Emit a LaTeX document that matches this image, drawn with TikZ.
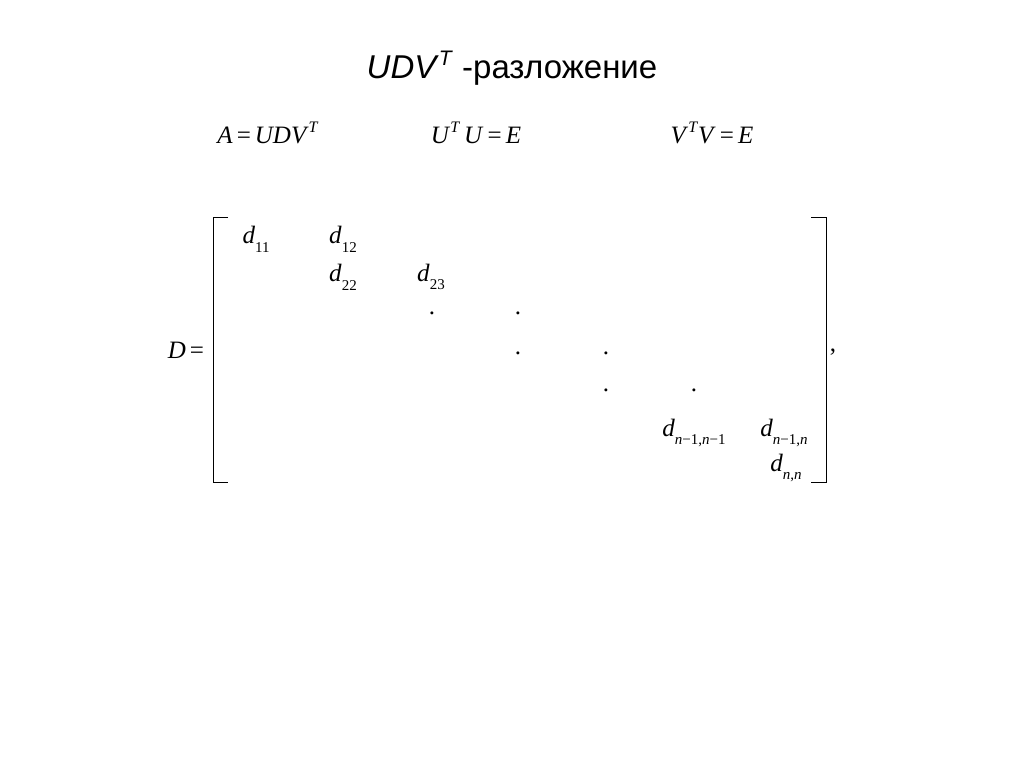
\documentclass[tikz,border=0pt]{standalone}
\usepackage{fontspec}
\setmainfont{Liberation Serif}
\newfontfamily\arialf{Liberation Sans}
\newcommand\myd[1]{\textit{d}\raisebox{-0.35em}{\fontsize{15}{15}\selectfont #1}}
\newcommand\mysup[1]{\raisebox{0.45em}{\fontsize{16}{16}\selectfont\textit{#1}}}
\begin{document}
\begin{tikzpicture}[x=1pt,y=-1pt,
  eq/.style={font=\fontsize{25}{27}\selectfont, inner sep=0pt},
  ent/.style={font=\fontsize{25}{27}\selectfont, inner sep=0pt},
  br/.style={line width=1pt}]
\useasboundingbox (0,0) rectangle (1024,767);
\fill[white] (0,0) rectangle (1024,767);
\node[inner sep=0pt,font=\arialf\fontsize{33}{35}\selectfont] (title) at (512,68) {\textit{UDV}\raisebox{0.4em}{\fontsize{21}{21}\selectfont\textit{T}} -разложение};
\node[eq] (e1) at (268,133) {\textit{A}\hspace{4pt}=\hspace{4pt}\textit{UDV}\mysup{T}};
\node[eq] (e2) at (476,133) {\textit{U}\mysup{T}\hspace{4pt}\textit{U}\hspace{4pt}=\hspace{4pt}\textit{E}};
\node[eq] (e3) at (712,133) {\textit{V}\mysup{T}\textit{V}\hspace{4pt}=\hspace{4pt}\textit{E}};
\node[eq] (dl) at (186,350) {\textit{D}\hspace{4pt}=};
\draw[br] (228,218) -- (213,218) -- (213,482) -- (228,482);
\draw[br] (811,218) -- (826,218) -- (826,482) -- (811,482);
\node[ent] (comma) at (833,352) {,};
\node[ent] (d11) at (256,239) {\myd{11}};
\node[ent] (d12) at (343,239) {\myd{12}};
\node[ent] (d22) at (343,277) {\myd{22}};
\node[ent] (d23) at (431,277) {\myd{23}};
\foreach \x/\y in {432/313,518/313,518/353,606/353,606/390,694/390}
  \node[ent] at (\x,\y) {.};
\node[ent] (dn1) at (694,433) {\myd{\textit{n}−1,\textit{n}−1}};
\node[ent] (dn2) at (784,433) {\myd{\textit{n}−1,\textit{n}}};
\node[ent] (dnn) at (786,468) {\myd{\textit{n},\textit{n}}};
\end{tikzpicture}
\end{document}
